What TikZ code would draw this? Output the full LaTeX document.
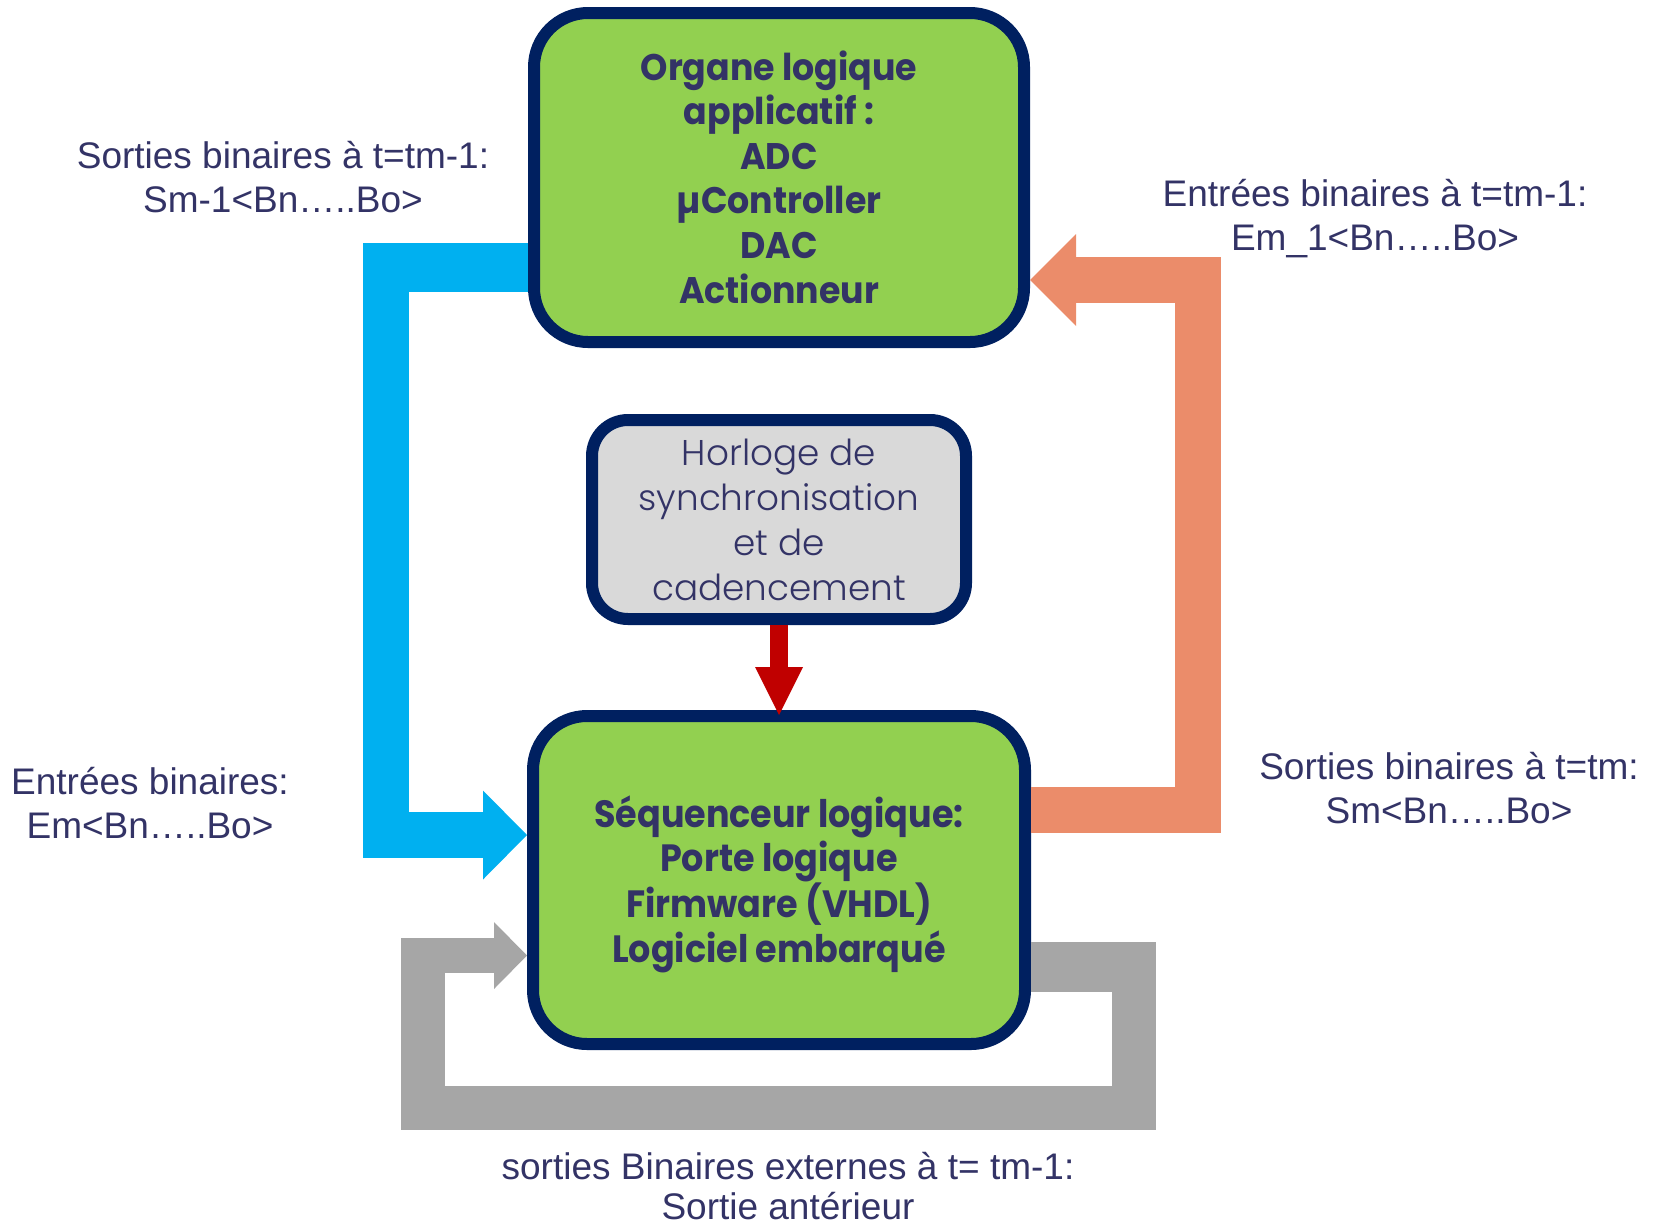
\documentclass[tikz,border=0pt]{standalone}
\usepackage{fontspec}
\setmainfont{Liberation Sans}
\newfontfamily\gothic{Poppins}[FakeStretch=0.94]
\newfontfamily\gothiccond{Poppins}[FakeStretch=0.92]
\IfFontExistsTF{Poppins Light}
  {\newfontfamily\gothiclight{Poppins Light}}
  {\newfontfamily\gothiclight{Poppins}}
\usetikzlibrary{arrows.meta}

\definecolor{navy}{HTML}{002060}
\definecolor{ink}{HTML}{333366}
\definecolor{leaf}{HTML}{92D050}
\definecolor{mist}{HTML}{D9D9D9}
\definecolor{sky}{HTML}{00B0F0}
\definecolor{salmon}{HTML}{EB8C6A}
\definecolor{ash}{HTML}{A6A6A6}
\definecolor{crimson}{HTML}{C00000}

% multi-line texts are placed by the baseline of their last line
\tikzset{
  box/.style={rectangle, draw=navy, line width=12pt, inner sep=0pt},
  flow/.style={line cap=butt, line join=miter},
  tip/.style={-{Triangle[#1, line width=0pt]}},
  lbl/.style={font=\fontsize{37}{44}\selectfont, text=ink, align=center, inner sep=0pt, anchor=base},
  boldtxt/.style={font=\gothic\bfseries\fontsize{37}{44.6}\selectfont, text=ink, align=center, inner sep=0pt, anchor=base},
  condtxt/.style={font=\gothiccond\bfseries\fontsize{38}{44.3}\selectfont, text=ink, align=center, inner sep=0pt, anchor=base},
  lighttxt/.style={font=\gothiclight\fontsize{35.8}{45}\selectfont, text=ink, align=center, inner sep=0pt, anchor=base},
}

\begin{document}
\begin{tikzpicture}[x=1pt, y=-1pt]
\useasboundingbox (0,0) rectangle (1654,1227);

% blocks
\node[box, fill=leaf, minimum width=490pt, minimum height=329pt, rounded corners=54pt] (organe) at (779,177.5) {};
\node[box, fill=mist, minimum width=374pt, minimum height=199pt, rounded corners=36pt] (horloge) at (779,519.5) {};
\node[box, fill=leaf, minimum width=492pt, minimum height=328pt, rounded corners=54pt] (sequenceur) at (779,880) {};

% block texts
\node[boldtxt] (organe-txt) at (779,303) {Organe logique\\applicatif :\\ADC\\µController\\DAC\\Actionneur};
\node[lighttxt] (horloge-txt) at (779,600) {Horloge de\\synchronisation\\et de\\cadencement};
\node[condtxt] (sequenceur-txt) at (779,962) {Séquenceur logique:\\Porte logique\\Firmware (VHDL)\\Logiciel embarqué};

% bend points of the wide connectors
\coordinate (sky-top) at (363,267.5);
\coordinate (sky-corner) at (386,243);
\coordinate (salmon-bend) at (1197.5,280);
\coordinate (ash-right) at (1155,967);
\coordinate (ash-down) at (1134,942);
\coordinate (ash-left) at (423,1108);
\coordinate (ash-up) at (423,938);
\coordinate (ash-back) at (401,955.5);

% outputs of the application block back to the sequencer inputs
\draw[flow, sky, line width=49pt] ([yshift=-90pt]organe.west) -- (sky-top);
\draw[flow, sky, line width=46pt, tip={length=44pt, width=89pt}]
  (sky-corner) |- ([yshift=45pt]sequenceur.west);

% sequencer outputs to the application block
\draw[flow, salmon, line width=46pt, tip={length=46pt, width=92pt}]
  ([yshift=70.5pt]sequenceur.east) -| (salmon-bend) -- ([yshift=-102.5pt]organe.east);

% external outputs fed back
\draw[flow, ash, line width=50pt] ([yshift=-87pt]sequenceur.east) -- (ash-right);
\draw[flow, ash, line width=44pt] (ash-down) |- (ash-left) -- (ash-up);
\draw[flow, ash, line width=35pt, tip={length=33pt, width=67pt}]
  (ash-back) -- ([yshift=-75.5pt]sequenceur.west);

% clock
\draw[flow, crimson, line width=18pt, tip={length=48pt, width=48pt}]
  (horloge.south) -- ([yshift=-5pt]sequenceur.north);

% signal labels
\node[lbl] (sortie-prec) at (283,212) {Sorties binaires à t=tm-1:\\Sm-1<Bn…..Bo>};
\node[lbl] (entree-prec) at (1375,250) {Entrées binaires à t=tm-1:\\Em\_1<Bn…..Bo>};
\node[lbl] (sortie-cour) at (1449,823) {Sorties binaires à t=tm:\\Sm<Bn…..Bo>};
\node[lbl] (entree-cour) at (150,838) {Entrées binaires:\\Em<Bn…..Bo>};
\node[lbl, font=\fontsize{37}{40}\selectfont] (sortie-ext) at (788,1219) {sorties Binaires externes à t= tm-1:\\Sortie antérieur};
\end{tikzpicture}
\end{document}
